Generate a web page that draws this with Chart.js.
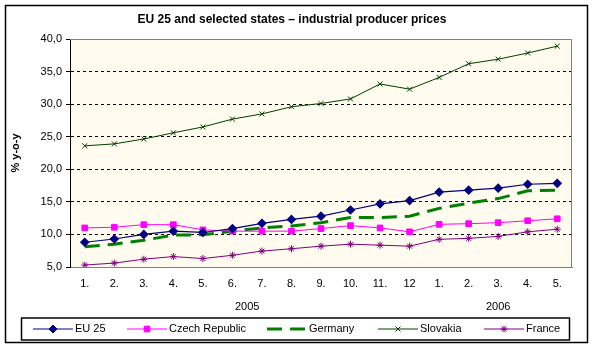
<!DOCTYPE html>
<html>
<head>
<meta charset="utf-8">
<script src="https://cdn.jsdelivr.net/npm/chart.js@4/dist/chart.umd.min.js"></script>
<style>
  body { margin: 0; background: #fff; }
  #wrap { width: 598px; height: 350px; position: relative; }
</style>
</head>
<body>
<div id="wrap"><canvas id="myChart"></canvas></div>
<script>
const meses = ['1.', '2.', '3.', '4.', '5.', '6.', '7.', '8.', '9.', '10.', '11.', '12', '1.', '2.', '3.', '4.', '5.'];
const anios = [{ label: '2005', desde: 0, hasta: 11 }, { label: '2006', desde: 12, hasta: 16 }];

const eu25 = [8.8, 9.3, 10.0, 10.5, 10.3, 10.9, 11.7, 12.3, 12.8, 13.75, 14.7, 15.2, 16.5, 16.8, 17.1, 17.7, 17.85];
const czech = [11.0, 11.1, 11.5, 11.5, 10.7, 10.5, 10.5, 10.5, 10.9, 11.35, 11.0, 10.4, 11.55, 11.65, 11.8, 12.1, 12.4];
const germany = [8.1, 8.5, 9.1, 9.9, 9.95, 10.5, 11.0, 11.3, 11.8, 12.6, 12.6, 12.8, 14.0, 14.8, 15.5, 16.7, 16.8];
const slovakia = [23.6, 23.9, 24.65, 25.6, 26.5, 27.7, 28.5, 29.6, 30.1, 30.8, 33.1, 32.3, 34.1, 36.2, 36.9, 37.85, 38.9];
const france = [5.3, 5.6, 6.2, 6.6, 6.3, 6.8, 7.45, 7.8, 8.2, 8.5, 8.35, 8.2, 9.25, 9.4, 9.7, 10.4, 10.8];

const fuente = '"Liberation Sans", Arial, sans-serif';

// marco, titulo, fondo, años y leyenda
const decorado = {
  id: 'decorado',
  beforeDraw(chart) {
    const ctx = chart.ctx;
    const a = chart.chartArea;
    ctx.save();
    ctx.fillStyle = '#fff';
    ctx.fillRect(0, 0, chart.width, chart.height);
    ctx.strokeStyle = '#000';
    ctx.lineWidth = 1.5;
    ctx.strokeRect(5.5, 5.5, 582, 337);
    ctx.fillStyle = '#FFFBEE';
    ctx.fillRect(a.left, a.top, a.right - a.left, a.bottom - a.top);
    ctx.restore();
  },
  afterDraw(chart) {
    const ctx = chart.ctx;
    const a = chart.chartArea;
    const x = chart.scales.x;
    ctx.save();
    // borde gris del area
    ctx.strokeStyle = '#808080';
    ctx.lineWidth = 1;
    ctx.beginPath();
    ctx.moveTo(a.left, a.top + 0.5);
    ctx.lineTo(a.right - 0.5, a.top + 0.5);
    ctx.lineTo(a.right - 0.5, a.bottom);
    ctx.stroke();

    ctx.fillStyle = '#000';
    ctx.font = 'bold 12px ' + fuente;
    ctx.textAlign = 'center';
    ctx.textBaseline = 'middle';
    ctx.fillText('EU 25 and selected states \u2013 industrial producer prices', 292, 20);

    ctx.save();
    ctx.translate(16, (a.top + a.bottom) / 2);
    ctx.rotate(-Math.PI / 2);
    ctx.font = 'bold 11px ' + fuente;
    ctx.fillText('% y-o-y', 0, 0);
    ctx.restore();

    ctx.font = '11px ' + fuente;
    anios.forEach(an => {
      const cx = (x.getPixelForValue(an.desde) + x.getPixelForValue(an.hasta)) / 2;
      ctx.fillText(an.label, cx, 307);
    });

    // leyenda
    ctx.strokeStyle = '#000';
    ctx.lineWidth = 1.5;
    ctx.strokeRect(21.5, 318, 548, 22);
    const posX = [33, 127, 267, 378, 484];
    const ly = 329;
    chart.data.datasets.forEach((ds, i) => {
      const x0 = posX[i];
      ctx.save();
      ctx.strokeStyle = ds.borderColor;
      ctx.fillStyle = ds.borderColor;
      ctx.lineWidth = ds.borderWidth;
      ctx.setLineDash(ds.borderDash || []);
      ctx.beginPath();
      ctx.moveTo(x0, ly);
      ctx.lineTo(x0 + 40, ly);
      ctx.stroke();
      ctx.setLineDash([]);
      ctx.lineWidth = 1;
      if (ds.pointRadius > 0) {
        Chart.helpers.drawPoint(ctx, {
          pointStyle: ds.pointStyle, radius: ds.pointRadius, borderWidth: 1
        }, x0 + 20, ly);
      }
      ctx.restore();
      ctx.fillStyle = '#000';
      ctx.textAlign = 'left';
      ctx.fillText(ds.label, x0 + 42, ly);
    });
    ctx.restore();
  }
};

const serie = (label, data, color, estilo, radio, ancho, dash) => ({
  label: label,
  data: data,
  borderColor: color,
  backgroundColor: color,
  pointBorderColor: color,
  pointBackgroundColor: color,
  pointStyle: estilo,
  pointRadius: radio,
  pointHoverRadius: radio,
  borderWidth: ancho,
  borderDash: dash,
  tension: 0
});

new Chart(document.getElementById('myChart'), {
  type: 'line',
  data: {
    labels: meses,
    datasets: [
      serie('EU 25', eu25, '#000080', 'rectRot', 4, 1.2, []),
      serie('Czech Republic', czech, '#FF00FF', 'rect', 4, 1, []),
      serie('Germany', germany, '#008000', false, 0, 3, [15, 8]),
      serie('Slovakia', slovakia, '#004000', 'crossRot', 3.5, 1, []),
      serie('France', france, '#800080', 'star', 3.5, 1, [])
    ]
  },
  plugins: [decorado],
  options: {
    responsive: true,
    maintainAspectRatio: false,
    animation: false,
    layout: { padding: { left: 0, top: 39, right: 26, bottom: 0 } },
    plugins: {
      legend: { display: false },
      title: { display: false },
      tooltip: { enabled: false }
    },
    scales: {
      x: {
        offset: true,
        afterFit(s) { s.height = 83; },
        grid: { display: false, drawTicks: false },
        border: { display: true, color: '#808080', width: 1 },
        ticks: { color: '#000', font: { family: fuente, size: 11 }, padding: 10, maxRotation: 0, autoSkip: false }
      },
      y: {
        min: 5,
        max: 40,
        afterFit(s) { s.width = 70; },
        grid: {
          color: c => (c.tick && (c.tick.value === 5 || c.tick.value === 40)) ? 'rgba(0,0,0,0)' : '#000',
          tickColor: '#000',
          tickLength: 4,
          lineWidth: 1
        },
        border: { display: true, color: '#000', width: 1, dash: [3, 3] },
        ticks: {
          stepSize: 5,
          color: '#000',
          padding: 4,
          font: { family: fuente, size: 11 },
          callback: v => v.toFixed(1).replace('.', ',')
        }
      }
    }
  }
});
</script>
</body>
</html>
